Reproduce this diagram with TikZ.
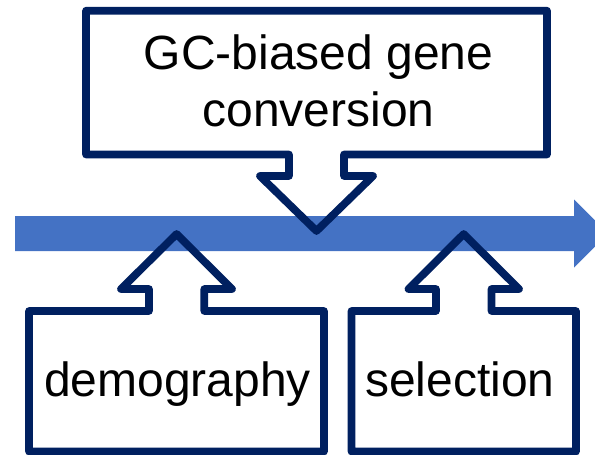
\documentclass[tikz,border=0pt]{standalone}
\usepackage{fontspec}
\setmainfont{Liberation Sans}
\definecolor{navy}{RGB}{0,32,96}
\definecolor{flowblue}{RGB}{68,114,196}
\tikzset{
  callout/.style={draw=navy, line width=7.7pt, line join=round},
  label/.style={inner sep=0pt, anchor=base, text=black, font=\fontsize{48}{57}\selectfont},
}
\begin{document}
\begin{tikzpicture}[x=1pt, y=-1pt]
  \useasboundingbox (0,0) rectangle (595,455);
  \clip (0,0) rectangle (595,455);

  % main timeline arrow
  \fill[flowblue] (15,216) -- (574,216) -- (574,199.5) -- (608,233.5)
    -- (574,267.5) -- (574,251) -- (15,251) -- cycle;

  % top callout pointing down onto the timeline
  \draw[callout] (86,10.7) -- (547,10.7) -- (547,154.5) -- (344,154.5)
    -- (344,176) -- (373,176) -- (316.5,231) -- (260,176) -- (289,176)
    -- (289,154.5) -- (86,154.5) -- cycle;

  % lower left callout pointing up
  \draw[callout] (29,311) -- (149,311) -- (149,289) -- (121,289)
    -- (176.6,234) -- (232,289) -- (204.3,289) -- (204.3,311)
    -- (324,311) -- (324,451.5) -- (29,451.5) -- cycle;

  % lower right callout pointing up
  \draw[callout] (351.5,311) -- (436,311) -- (436,289) -- (408.5,289)
    -- (463.7,234) -- (519,289) -- (491.5,289) -- (491.5,311)
    -- (576,311) -- (576,451.5) -- (351.5,451.5) -- cycle;

  % labels
  \node[label] (gcA) at (318.5,69) {GC-biased gene};
  \node[label] (gcB) at (318.5,126) {conversion};
  \node[label] (demo) at (177.5,396.7) {demography};
  \node[label] (sel) at (460,396.7) {selection};
\end{tikzpicture}
\end{document}
